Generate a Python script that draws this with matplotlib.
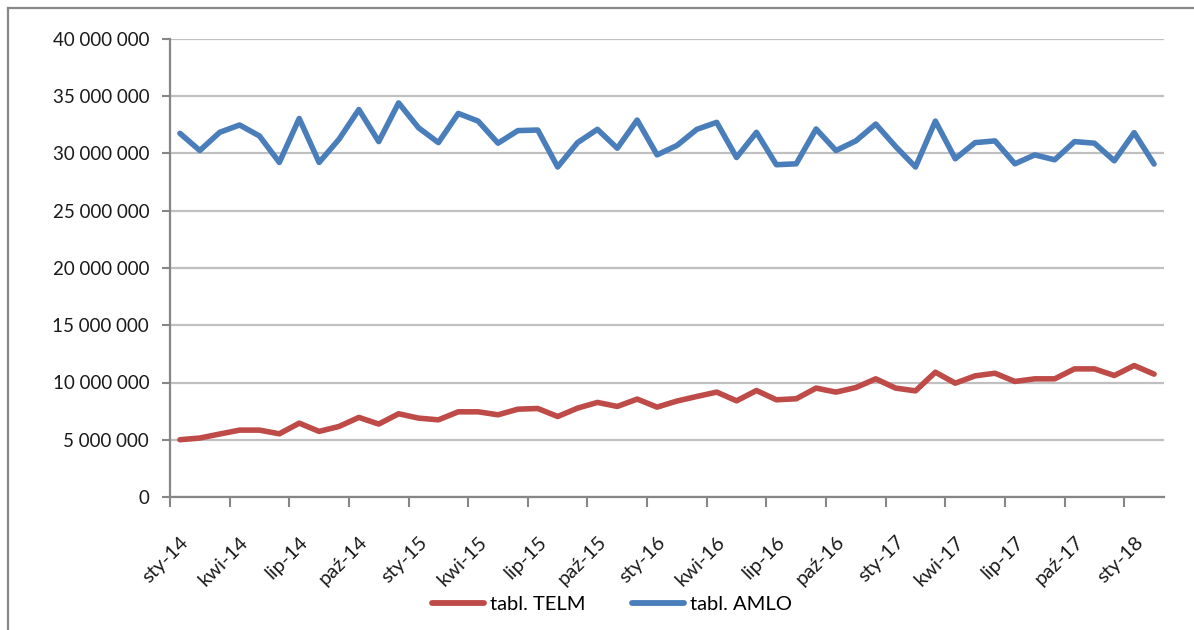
import matplotlib
matplotlib.use("Agg")
import matplotlib.pyplot as plt
from matplotlib.lines import Line2D

# ---- data (values in millions) ----
amlo = [31.76, 30.26, 31.85, 32.49, 31.53, 29.22, 33.06, 29.22, 31.24, 33.84, 31.04, 34.42,
        32.25, 30.95, 33.50, 32.83, 30.90, 32.00, 32.05, 28.82, 30.95, 32.11, 30.46, 32.92,
        29.88, 30.70, 32.11, 32.72, 29.65, 31.85, 29.02, 29.10, 32.14, 30.26, 31.10, 32.57,
        30.61, 28.82, 32.83, 29.54, 30.95, 31.10, 29.10, 29.88, 29.45, 31.04, 30.90, 29.36,
        31.82, 29.08]
telm = [5.00, 5.15, 5.50, 5.84, 5.84, 5.52, 6.45, 5.73, 6.16, 6.95, 6.37, 7.27,
        6.89, 6.74, 7.44, 7.44, 7.18, 7.67, 7.73, 7.03, 7.76, 8.26, 7.91, 8.55,
        7.85, 8.38, 8.78, 9.16, 8.40, 9.30, 8.49, 8.58, 9.51, 9.16, 9.56, 10.32,
        9.51, 9.27, 10.90, 9.94, 10.58, 10.81, 10.09, 10.32, 10.32, 11.19, 11.19, 10.61,
        11.48, 10.73]
x_labels = ["sty-14", "kwi-14", "lip-14", "paź-14", "sty-15", "kwi-15", "lip-15", "paź-15",
            "sty-16", "kwi-16", "lip-16", "paź-16", "sty-17", "kwi-17", "lip-17", "paź-17", "sty-18"]
y_ticks = [0, 5, 10, 15, 20, 25, 30, 35, 40]
y_labels = ["0", "5 000 000", "10 000 000", "15 000 000", "20 000 000",
            "25 000 000", "30 000 000", "35 000 000", "40 000 000"]
series_names = ["tabl. TELM", "tabl. AMLO"]

plt.rcParams['font.family'] = ['Lato', 'DejaVu Sans']

fig = plt.figure(figsize=(11.94, 6.30), dpi=100)
ax = fig.add_axes([170/1194, 1-497/630, (1164-170)/1194, (497-39)/630])

n = len(amlo)
xs = list(range(n))
red = "#BE4B48"
blue = "#4A7EBB"
ax.plot(xs, telm, color=red, lw=4.0, solid_joinstyle='round', solid_capstyle='round',
        label=series_names[0], zorder=3)
ax.plot(xs, amlo, color=blue, lw=4.0, solid_joinstyle='round', solid_capstyle='round',
        label=series_names[1], zorder=3)

ax.set_xlim(-0.5, n - 0.5)
ax.set_ylim(0, 40)

# y axis
ax.set_yticks(y_ticks)
ax.set_yticklabels(y_labels, fontsize=13.5, color="#1a1a1a")
ax.tick_params(axis='y', length=6, width=1.5, color="#868686", pad=9)
ax.yaxis.grid(True, color="#C0C0C0", lw=1.6)
ax.set_axisbelow(True)

# x axis: ticks at category boundaries every 3, labels at category centres
label_pos = list(range(0, n, 3))
ax.set_xticks([p - 0.5 for p in label_pos])
ax.set_xticklabels([])
ax.tick_params(axis='x', which='major', length=7, width=1.5, color="#868686")
ax.set_xticks(label_pos, minor=True)
ax.set_xticklabels(x_labels, minor=True, fontsize=14.5, rotation=45, ha='right', va='top',
                   rotation_mode='anchor', color="#1a1a1a")
ax.tick_params(axis='x', which='minor', length=0, pad=26)

for s in ['top', 'right']:
    ax.spines[s].set_visible(False)
for s in ['left', 'bottom']:
    ax.spines[s].set_color("#868686")
    ax.spines[s].set_linewidth(1.6)

leg = fig.legend(loc='center', bbox_to_anchor=(612/1194, 1-604/630), ncol=2, frameon=False,
                 fontsize=14.5, handlelength=2.6, handletextpad=0.3, columnspacing=2.3)
for h in leg.get_lines():
    h.set_linewidth(4.2)

# outer frame (left and top edges visible)
fig.add_artist(Line2D([8/1194, 8/1194], [0, 1-8/630], color="#888888", lw=1.6,
                      transform=fig.transFigure))
fig.add_artist(Line2D([8/1194, 1], [1-8/630, 1-8/630], color="#888888", lw=1.6,
                      transform=fig.transFigure))

fig.savefig("out.png", dpi=100)
